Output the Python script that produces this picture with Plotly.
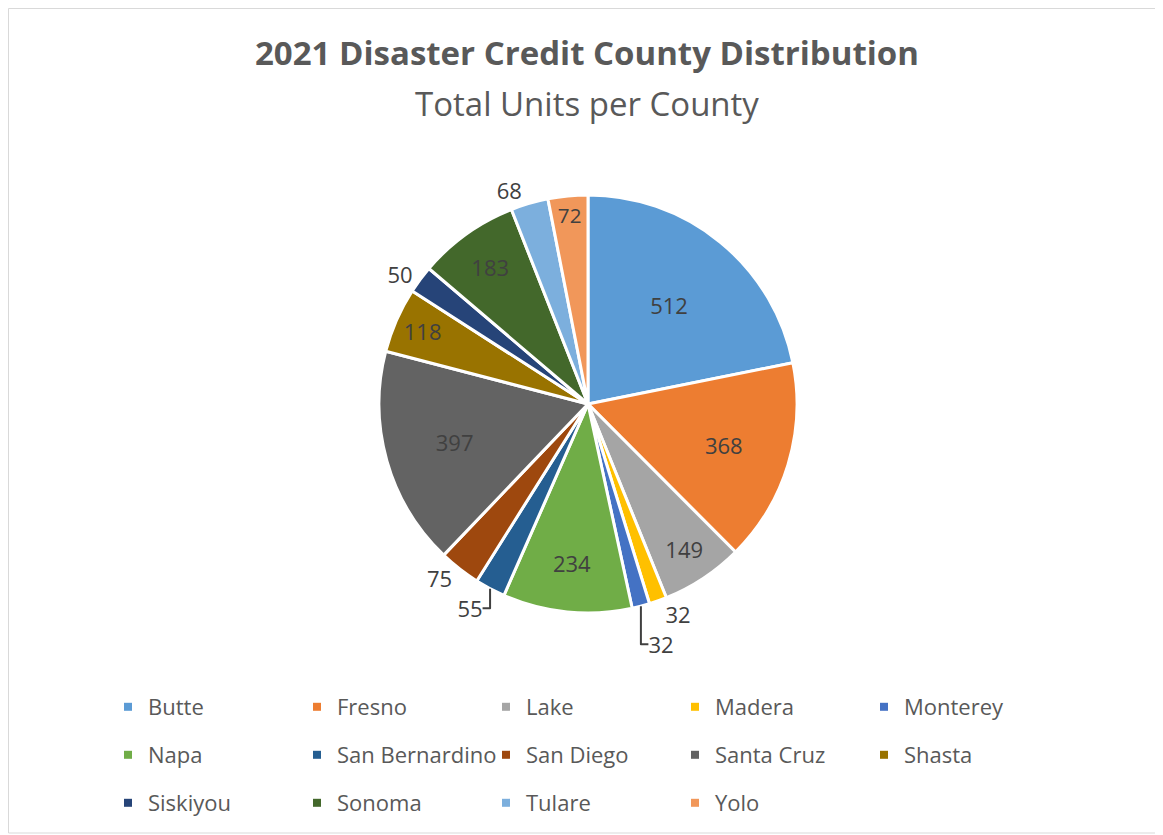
import plotly.graph_objects as go

counties = ["Butte", "Fresno", "Lake", "Madera", "Monterey", "Napa", "San Bernardino",
            "San Diego", "Santa Cruz", "Shasta", "Siskiyou", "Sonoma", "Tulare", "Yolo"]
units = [512, 368, 149, 32, 32, 234, 55, 75, 397, 118, 50, 183, 68, 72]
colors = ["#5B9BD5", "#ED7D31", "#A5A5A5", "#FFC000", "#4472C4", "#70AD47", "#255E91",
          "#9E480E", "#636363", "#997300", "#264478", "#43682B", "#7CAFDD", "#F1975A"]
label_pos = ["inside", "inside", "inside", "outside", "outside", "inside", "outside",
             "outside", "inside", "inside", "outside", "inside", "outside", "inside"]

W, H = 1163, 835
OFF = 8  # page body margin
FONT = "Open Sans"

def px(x):
    return (x - OFF) / W

def py(y):
    return 1 - (y - OFF) / H

fig = go.Figure()
fig.add_trace(go.Pie(
    labels=counties,
    values=units,
    sort=False,
    direction="clockwise",
    rotation=0,
    marker=dict(colors=colors, line=dict(color="white", width=3)),
    textinfo="value",
    textposition=label_pos,
    insidetextorientation="horizontal",
    textfont=dict(family=FONT, size=22, color="#404040"),
    domain=dict(x=[px(379), px(797)], y=[py(613), py(195)]),
    hoverinfo="label+value",
    showlegend=False,
))

# legend entries (one legend per row, five per row)
legend_ids = ["legend", "legend2", "legend3"]
for i, (name, col) in enumerate(zip(counties, colors)):
    fig.add_trace(go.Scatter(
        x=[None], y=[None], mode="markers", name=name,
        marker=dict(symbol="square", size=8, color=col),
        legend=legend_ids[i // 5], hoverinfo="skip",
    ))

row_y = [707, 755, 803]
leg_common = dict(
    orientation="h", xanchor="left", yanchor="middle",
    entrywidth=144, entrywidthmode="pixels",
    font=dict(family=FONT, size=22, color="#595959"),
    bgcolor="rgba(0,0,0,0)", traceorder="normal",
)

fig.update_layout(
    width=W, height=H,
    margin=dict(l=0, r=0, t=0, b=0),
    paper_bgcolor="white",
    plot_bgcolor="white",
    font=dict(family=FONT, color="#595959"),
    showlegend=True,
    xaxis=dict(visible=False),
    yaxis=dict(visible=False),
    legend=dict(x=px(108), y=py(row_y[0]), **leg_common),
    legend2=dict(x=px(108), y=py(row_y[1]), **leg_common),
    legend3=dict(x=px(108), y=py(row_y[2]), **leg_common),
    annotations=[
        dict(text="<b>2021 Disaster Credit County Distribution</b>", x=px(587), y=py(53),
             xref="paper", yref="paper", showarrow=False, xanchor="center", yanchor="middle",
             font=dict(family=FONT, size=33, color="#595959")),
        dict(text="Total Units per County", x=px(587), y=py(103),
             xref="paper", yref="paper", showarrow=False, xanchor="center", yanchor="middle",
             font=dict(family=FONT, size=33, color="#595959")),
    ],
    shapes=[
        dict(type="rect", xref="paper", yref="paper", x0=px(8.5), x1=px(1160), y0=py(833), y1=py(8.5),
             line=dict(color="#D9D9D9", width=1), fillcolor="rgba(0,0,0,0)", layer="below"),
    ],
)

fig.write_html("out.html")
